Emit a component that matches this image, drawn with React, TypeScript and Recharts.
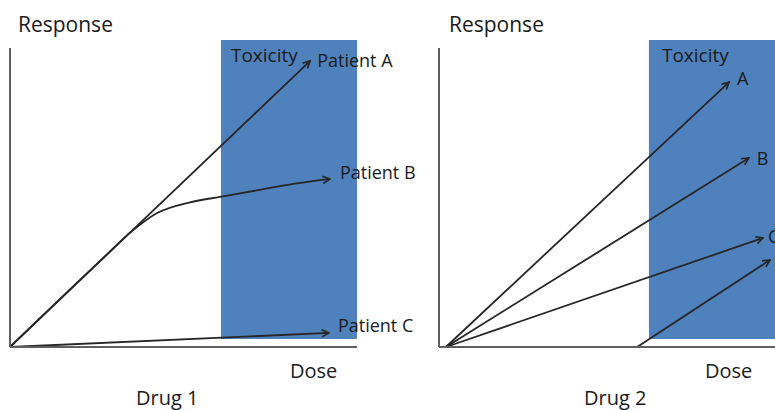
import React from "react";
import { LineChart, Line, XAxis, YAxis, ReferenceArea } from "recharts";

// dose / response in arbitrary units (0-100 on both axes)
const drug1PatientA = [
  { x: 0, y: 0 },
  { x: 86.5, y: 95.7 },
];
const drug1PatientB = [
  { x: 0, y: 0 },
  { x: 25.9, y: 28.7 },
  { x: 35.4, y: 39.0 },
  { x: 42.4, y: 44.8 },
  { x: 51.9, y: 48.4 },
  { x: 60.5, y: 50.2 },
  { x: 68.3, y: 51.8 },
  { x: 77.8, y: 53.8 },
  { x: 92.2, y: 56.2 },
];
const drug1PatientC = [
  { x: 0, y: 0 },
  { x: 91.9, y: 4.7 },
];

const drug2PatientA = [
  { x: 2, y: 0 },
  { x: 83.6, y: 88.6 },
];
const drug2PatientB = [
  { x: 2, y: 0 },
  { x: 89.3, y: 63.2 },
];
const drug2PatientC = [
  { x: 2, y: 0 },
  { x: 93.4, y: 36.5 },
];
const drug2PatientD = [
  { x: 57.1, y: 0 },
  { x: 95.4, y: 29.1 },
];

// toxic dose window [x1, x2, y1, y2]
const drug1Toxicity = [60.8, 100, 2.7, 102.7];
const drug2Toxicity = [60.5, 100, 2.7, 102.7];

const FONT = "'Open Sans', 'DejaVu Sans', sans-serif";
const INK = "#1a1a1a";
const LINE = "#262626";
const AXIS = "#5f5f5f";
const BLUE = "#4f81bd";

const endLabel = (text: string, last: number, dx: number, dy: number) =>
  (props: any) => {
    if (props.index !== last) return null;
    return (
      <text
        x={props.x + dx}
        y={props.y + dy}
        dominantBaseline="central"
        fontFamily={FONT}
        fontSize={18}
        fill={INK}
      >
        {text}
      </text>
    );
  };

const toxLabel = (dx: number) => (props: any) => {
  const vb = props.viewBox || {};
  return (
    <text x={vb.x + dx} y={vb.y + 22} fontFamily={FONT} fontSize={19} fill={INK}>
      Toxicity
    </text>
  );
};

const arrowLine = (key: string, data: any[], label: any, curved = false) => (
  <Line
    key={key}
    data={data}
    dataKey="y"
    type={curved ? "monotone" : "linear"}
    stroke={LINE}
    strokeWidth={1.8}
    dot={false}
    activeDot={false}
    markerEnd="url(#arrowHead)"
    label={label}
    isAnimationActive={false}
  />
);

const axes = () => [
  <XAxis
    key="x"
    type="number"
    dataKey="x"
    domain={[0, 100]}
    height={1}
    tick={false}
    tickLine={false}
    axisLine={{ stroke: AXIS, strokeWidth: 2 }}
  />,
  <YAxis
    key="y"
    type="number"
    domain={[0, 100]}
    width={1}
    tick={false}
    tickLine={false}
    axisLine={{ stroke: AXIS, strokeWidth: 2 }}
  />,
];

const titleStyle = { fontFamily: FONT, fill: INK } as const;

export default function App() {
  return (
    <div
      style={{
        position: "absolute",
        left: 0,
        top: 0,
        width: 775,
        height: 410,
        overflow: "hidden",
        background: "#fff",
      }}
    >
      <svg width={0} height={0} style={{ position: "absolute" }}>
        <defs>
          <marker
            id="arrowHead"
            viewBox="0 0 10 10"
            refX={9}
            refY={5}
            markerWidth={9}
            markerHeight={9}
            markerUnits="userSpaceOnUse"
            orient="auto"
          >
            <path d="M1,1 L9,5 L1,9" fill="none" stroke={LINE} strokeWidth={1.8} />
          </marker>
        </defs>
      </svg>

      <div style={{ position: "absolute", left: 0, top: 0 }}>
        <LineChart width={420} height={410} margin={{ top: 48, right: 63, bottom: 62, left: 9 }}>
          {axes()}
          <ReferenceArea
            x1={drug1Toxicity[0]}
            x2={drug1Toxicity[1]}
            y1={drug1Toxicity[2]}
            y2={drug1Toxicity[3]}
            fill={BLUE}
            fillOpacity={1}
            stroke="none"
            ifOverflow="visible"
            label={toxLabel(10)}
          />
          {arrowLine("a", drug1PatientA, endLabel("Patient A", drug1PatientA.length - 1, 7, -1))}
          {arrowLine("b", drug1PatientB, endLabel("Patient B", drug1PatientB.length - 1, 10, -7), true)}
          {arrowLine("c", drug1PatientC, endLabel("Patient C", drug1PatientC.length - 1, 9, -8))}
        </LineChart>
      </div>

      <div style={{ position: "absolute", left: 420, top: 0 }}>
        <LineChart width={376} height={410} margin={{ top: 48, right: 10, bottom: 62, left: 18 }}>
          {axes()}
          <ReferenceArea
            x1={drug2Toxicity[0]}
            x2={drug2Toxicity[1]}
            y1={drug2Toxicity[2]}
            y2={drug2Toxicity[3]}
            fill={BLUE}
            fillOpacity={1}
            stroke="none"
            ifOverflow="visible"
            label={toxLabel(13)}
          />
          {arrowLine("a", drug2PatientA, endLabel("A", drug2PatientA.length - 1, 8, -4))}
          {arrowLine("b", drug2PatientB, endLabel("B", drug2PatientB.length - 1, 8, 0))}
          {arrowLine("c", drug2PatientC, endLabel("C", drug2PatientC.length - 1, 5, -2))}
          {arrowLine("d", drug2PatientD, false)}
        </LineChart>
      </div>

      <svg width={775} height={410} style={{ position: "absolute", left: 0, top: 0, pointerEvents: "none" }}>
        <text x={18} y={32} fontSize={21} {...titleStyle}>Response</text>
        <text x={449} y={32} fontSize={21} {...titleStyle}>Response</text>
        <text x={290} y={378} fontSize={20} {...titleStyle}>Dose</text>
        <text x={705} y={378} fontSize={20} {...titleStyle}>Dose</text>
        <text x={136} y={405} fontSize={20} {...titleStyle}>Drug 1</text>
        <text x={584} y={405} fontSize={20} {...titleStyle}>Drug 2</text>
      </svg>
    </div>
  );
}
